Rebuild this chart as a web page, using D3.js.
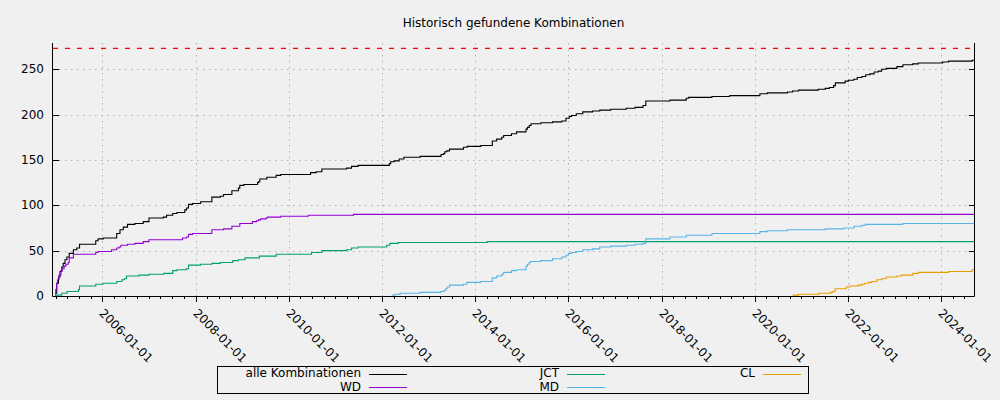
<!DOCTYPE html>
<html><head><meta charset="utf-8">
<script src="https://cdn.jsdelivr.net/npm/d3@7"></script>
<style>
body{margin:0;background:#f0f0f0;}
svg{display:block;}
text{font-family:"DejaVu Sans",sans-serif;font-size:12px;fill:#000;}
</style>
</head><body><svg id="c" width="1000" height="400"></svg>
<script>
const title = "Historisch gefundene Kombinationen";
const seriesNames = ["alle Kombinationen", "WD", "JCT", "MD", "CL"];
const seriesColors = ["#000000", "#9400d3", "#009e73", "#56b4e9", "#e69f00"];
const maxCombinations = 273;
const xStart = "2004-12-10", xEnd = "2024-09-14";
const yMax = 279;
const yTicks = [0, 50, 100, 150, 200, 250];
const xTicks = ["2006-01-01","2008-01-01","2010-01-01","2012-01-01","2014-01-01",
                "2016-01-01","2018-01-01","2020-01-01","2022-01-01","2024-01-01"];

const alle = [
["2004-12-30",3],["2005-01-08",14],["2005-01-22",21],["2005-02-03",27],["2005-02-17",32],
["2005-02-28",36],["2005-03-14",40],["2005-03-29",43],["2005-04-16",47],["2005-05-19",51],
["2005-06-14",53],["2005-07-06",57],["2005-11-10",61],["2005-11-28",63],["2006-01-08",64],
["2006-04-23",69],["2006-05-19",73],["2006-06-14",76],["2006-07-17",79],["2006-09-13",80],
["2006-11-17",82],["2007-01-01",86],["2007-04-23",87],["2007-05-19",89],["2007-07-06",91],
["2007-08-08",92],["2007-10-09",95],["2007-10-23",97],["2007-11-07",101],["2007-12-09",102],
["2008-02-10",104],["2008-05-08",109],["2008-07-13",110],["2008-08-08",112],["2008-10-12",116],
["2008-12-02",119],["2008-12-13",122],["2009-01-15",123],["2009-05-01",125],["2009-05-08",126],
["2009-05-19",129],["2009-07-13",131],["2009-09-24",133],["2009-10-30",134],["2010-06-21",136],
["2010-08-04",137],["2010-09-17",140],["2011-03-29",141],["2011-05-08",143],["2011-06-28",144],
["2012-02-28",146],["2012-03-10",148],["2012-04-05",149],["2012-05-15",151],["2012-06-21",153],
["2012-10-27",154],["2013-04-08",156],["2013-04-27",157],["2013-05-08",159],["2013-05-23",160],
["2013-06-14",162],["2013-10-01",164],["2013-10-30",165],["2014-02-14",166],["2014-05-15",171],
["2014-06-18",173],["2014-07-28",175],["2014-08-12",177],["2014-10-12",179],["2014-11-21",181],
["2015-02-03",184],["2015-02-14",186],["2015-02-28",188],["2015-03-14",190],["2015-05-30",191],
["2015-08-30",192],["2015-11-10",193],["2015-12-13",196],["2016-01-08",198],["2016-01-26",199],
["2016-03-03",201],["2016-04-23",203],["2016-07-09",204],["2016-09-03",205],["2016-11-28",206],
["2017-03-29",207],["2017-06-07",208],["2017-08-08",210],["2017-08-30",215],["2018-03-07",216],
["2018-07-13",218],["2018-08-01",219],["2019-01-30",220],["2019-06-18",221],["2020-02-10",223],
["2020-04-08",224],["2020-09-13",225],["2020-10-23",226],["2020-12-09",227],["2021-05-12",228],
["2021-07-06",229],["2021-08-08",230],["2021-09-10",232],["2021-09-24",235],["2021-12-09",237],
["2022-01-04",238],["2022-02-14",239],["2022-03-14",241],["2022-04-20",242],["2022-05-19",244],
["2022-06-21",245],["2022-07-24",247],["2022-08-26",248],["2022-09-21",250],["2022-10-27",251],
["2023-01-19",253],["2023-03-07",255],["2023-05-23",256],["2023-07-06",257],["2024-01-12",258],
["2024-02-28",259],["2024-08-30",260]
];
const wd = [
["2004-12-27",1],["2004-12-31",7],["2005-01-08",14],["2005-01-15",18],["2005-01-26",23],
["2005-02-10",28],["2005-02-21",30],["2005-03-07",33],["2005-03-21",35],["2005-04-08",37],
["2005-04-16",42],["2005-05-19",46],["2005-11-10",48],["2005-11-28",49],["2006-03-14",51],
["2006-04-23",53],["2006-05-12",54],["2006-05-26",56],["2006-07-17",57],["2006-09-13",58],
["2006-11-17",60],["2007-01-01",62],["2007-09-21",64],["2007-10-23",65],["2007-11-07",68],
["2007-12-09",69],["2008-05-08",73],["2008-08-08",74],["2008-10-12",77],["2008-12-13",80],
["2009-03-21",82],["2009-04-23",83],["2009-05-08",84],["2009-05-26",85],["2009-07-06",86],
["2009-07-17",87],["2009-10-30",88],["2010-06-03",89],["2011-05-23",90]
];
const jct = [
["2004-12-27",1],["2005-02-17",3],["2005-03-29",5],["2005-06-28",7],["2005-07-06",11],
["2005-11-10",13],["2006-01-04",14],["2006-04-23",16],["2006-06-03",18],["2006-06-21",19],
["2006-07-09",22],["2006-10-15",23],["2007-01-01",24],["2007-04-27",25],["2007-07-06",28],
["2007-08-08",29],["2007-10-19",30],["2007-11-07",34],["2008-02-10",35],["2008-05-08",36],
["2008-07-13",37],["2008-10-19",39],["2008-12-02",40],["2009-01-22",42],["2009-05-15",44],
["2009-09-24",46],["2010-06-28",48],["2010-09-17",50],["2011-03-29",51],["2011-05-08",53],
["2011-06-28",54],["2012-02-07",56],["2012-03-03",58],["2012-05-08",59],["2014-04-05",60]
];
const md = [
["2012-03-21",1],["2012-04-12",2],["2012-05-23",3],["2012-10-27",4],["2013-04-05",5],
["2013-05-01",6],["2013-05-15",8],["2013-05-26",10],["2013-06-14",12],["2013-10-01",13],
["2013-10-27",15],["2014-02-14",16],["2014-05-15",20],["2014-06-18",22],["2014-07-28",24],
["2014-08-12",26],["2014-10-12",28],["2014-11-21",29],["2015-02-03",33],["2015-02-14",35],
["2015-02-28",37],["2015-03-10",38],["2015-05-30",39],["2015-08-30",41],["2015-11-10",43],
["2015-12-13",45],["2016-01-01",47],["2016-01-26",48],["2016-03-03",49],["2016-04-23",51],
["2016-07-09",52],["2016-09-03",54],["2016-11-28",55],["2017-03-29",56],["2017-06-07",57],
["2017-08-08",58],["2017-08-30",63],["2018-03-07",65],["2018-07-13",67],["2019-01-30",69],
["2020-02-10",71],["2020-04-08",72],["2020-09-13",73],["2021-07-06",74],["2021-12-02",75],
["2022-02-17",77],["2022-04-20",78],["2022-05-19",79],["2023-03-07",80]
];
const cl = [
["2020-10-23",1],["2020-12-09",2],["2021-05-15",3],["2021-08-15",4],["2021-09-03",5],
["2021-09-21",8],["2021-12-17",10],["2022-01-15",11],["2022-03-21",12],["2022-04-20",13],
["2022-05-08",14],["2022-06-10",15],["2022-07-06",16],["2022-08-15",18],["2022-09-21",19],
["2022-10-27",21],["2023-01-19",22],["2023-02-25",23],["2023-05-23",25],["2023-07-06",26],
["2024-02-28",27],["2024-08-30",29]
];
const seriesData = [alle, wd, jct, md, cl];

const parse = d3.timeParse("%Y-%m-%d");
const svg = d3.select("#c");
const L = 53, R = 974, T = 43, B = 296;

svg.append("rect").attr("width",1000).attr("height",400).attr("fill","#f0f0f0");

const x = d3.scaleTime().domain([parse(xStart), parse(xEnd)]).range([L, R]);
const y = d3.scaleLinear().domain([0, yMax]).range([B, T]);

// title
svg.append("text").attr("x",(L+R)/2).attr("y",27).attr("text-anchor","middle").text(title);

// grid
const grid = svg.append("g").attr("stroke","#b0b0b0").attr("stroke-width",1).attr("stroke-dasharray","1.5,4.5");
xTicks.forEach(t=>{
  const px = Math.round(x(parse(t)))+0.5;
  grid.append("line").attr("x1",px).attr("x2",px).attr("y1",T).attr("y2",B);
});
yTicks.filter(v=>v>0).forEach(v=>{
  const py = Math.round(y(v))+0.5;
  grid.append("line").attr("x1",L).attr("x2",R).attr("y1",py).attr("y2",py);
});

// reference line
svg.append("line").attr("x1",L).attr("x2",R).attr("y1",y(maxCombinations)).attr("y2",y(maxCombinations))
  .attr("stroke","#ff0000").attr("stroke-width",1.2).attr("stroke-dasharray","5,7");

// series
const line = d3.line().x(d=>x(d[0])).y(d=>y(d[1])).curve(d3.curveStepAfter);
seriesData.forEach((s,i)=>{
  const pts = s.map(d=>[parse(d[0]), d[1]]);
  pts.push([parse(xEnd), s[s.length-1][1]]);
  svg.append("path").attr("d",line(pts)).attr("fill","none")
    .attr("stroke",seriesColors[i]).attr("stroke-width",1.1);
});

// borders
const ax = svg.append("g").attr("stroke","#000").attr("stroke-width",1).attr("fill","none");
ax.append("path").attr("d",`M${L-0.5},${T}V${B+0.5}H${R+0.5}V${T}`);

// y ticks (inward, mirrored)
yTicks.forEach(v=>{
  const py = Math.round(y(v))+0.5;
  ax.append("line").attr("x1",L).attr("x2",L+6).attr("y1",py).attr("y2",py);
  ax.append("line").attr("x1",R-5).attr("x2",R).attr("y1",py).attr("y2",py);
  svg.append("text").attr("x",44).attr("y",py).attr("text-anchor","end")
    .attr("dominant-baseline","middle").text(v);
});

// x minor ticks (quarterly)
x.ticks(d3.timeMonth.every(3)).forEach(t=>{
  const px = Math.round(x(t))+0.5;
  ax.append("line").attr("x1",px).attr("x2",px).attr("y1",B).attr("y2",B+3);
});
// x major ticks and labels
xTicks.forEach(t=>{
  const px = Math.round(x(parse(t)))+0.5;
  ax.append("line").attr("x1",px).attr("x2",px).attr("y1",B).attr("y2",B+6);
  svg.append("text").attr("transform",`translate(${px-1.5},311.5) rotate(45)`)
    .attr("dominant-baseline","middle").text(t);
});

// legend
const lg = svg.append("g");
lg.append("rect").attr("x",217.5).attr("y",366.5).attr("width",591).attr("height",27)
  .attr("fill","none").attr("stroke","#000");
const colTextX = [361, 559, 755];
const rowY = [373.5, 387];
seriesNames.forEach((n,i)=>{
  const col = Math.floor(i/2), row = i%2;
  const tx = colTextX[col], ty = rowY[row];
  lg.append("text").attr("x",tx).attr("y",ty).attr("text-anchor","end")
    .attr("dominant-baseline","middle").text(n);
  lg.append("line").attr("x1",tx+8).attr("x2",tx+46).attr("y1",Math.round(ty)+0.5).attr("y2",Math.round(ty)+0.5)
    .attr("stroke",seriesColors[i]).attr("stroke-width",1);
});
</script>
</body></html>
